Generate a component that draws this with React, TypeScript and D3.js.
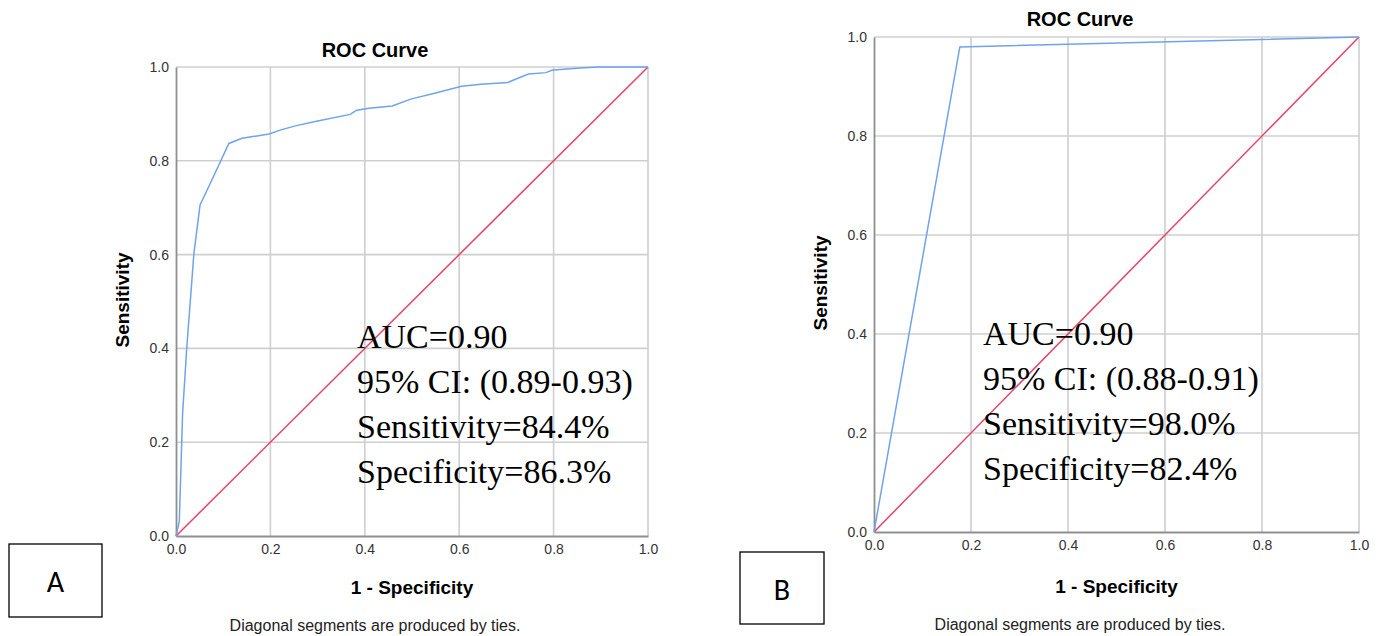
import React, { useEffect, useRef } from "react";
import * as d3 from "d3";

// panel A curve
const fprA = [0, 0.007, 0.014, 0.023, 0.03, 0.038, 0.051, 0.076, 0.112, 0.14, 0.197, 0.222, 0.255, 0.295, 0.369, 0.383, 0.409, 0.458, 0.499, 0.548, 0.605, 0.646, 0.703, 0.727, 0.747, 0.784, 0.796, 0.821, 0.858, 0.894, 1];
const tprA = [0, 0.031, 0.262, 0.404, 0.497, 0.603, 0.706, 0.759, 0.837, 0.848, 0.857, 0.866, 0.875, 0.884, 0.899, 0.908, 0.912, 0.917, 0.932, 0.944, 0.959, 0.963, 0.967, 0.977, 0.985, 0.988, 0.993, 0.995, 0.998, 1.0, 1];

// panel B curve
const fprB = [0, 0.177, 1];
const tprB = [0, 0.98, 1];

const refLine = [0, 1];
const ticks = [0, 0.2, 0.4, 0.6, 0.8, 1.0];

const statsA = ["AUC=0.90", "95% CI: (0.89-0.93)", "Sensitivity=84.4%", "Specificity=86.3%"];
const statsB = ["AUC=0.90", "95% CI: (0.88-0.91)", "Sensitivity=98.0%", "Specificity=82.4%"];

const panels = [
  { label: "A", fpr: fprA, tpr: tprA, stats: statsA, x0: 176, x1: 648, yTop: 67, yBot: 536, titleX: 375, titleY: 57, xtY: 594, ytX: 122, ytY: 300, noteX: 375, noteY: 631, statX: 357, statY: 348, box: [9, 544, 93, 73], boxTextY: 592 },
  { label: "B", fpr: fprB, tpr: tprB, stats: statsB, x0: 874, x1: 1359, yTop: 37, yBot: 532, titleX: 1080, titleY: 26, xtY: 593, ytX: 820, ytY: 283, noteX: 1080, noteY: 630, statX: 983, statY: 345, box: [740, 552, 84, 72], boxTextY: 600 },
];

const sans = "Arial, 'Liberation Sans', sans-serif";
const serif = "'Times New Roman', 'Liberation Serif', serif";

const App = () => {
  const svgRef = useRef(null);

  useEffect(() => {
    const svg = d3.select(svgRef.current);
    svg.selectAll("*").remove();

    svg.append("rect").attr("width", 1380).attr("height", 636).attr("fill", "#fff");

    panels.forEach(p => {
      const g = svg.append("g");
      const x = d3.scaleLinear().domain([0, 1]).range([p.x0, p.x1]);
      const y = d3.scaleLinear().domain([0, 1]).range([p.yBot, p.yTop]);

      // grid
      g.append("g").selectAll("line").data(ticks.slice(1)).join("line")
        .attr("x1", d => x(d)).attr("x2", d => x(d))
        .attr("y1", p.yTop).attr("y2", p.yBot)
        .attr("stroke", "#cfcfcf").attr("stroke-width", 1.6);
      g.append("g").selectAll("line").data(ticks.slice(1)).join("line")
        .attr("x1", p.x0).attr("x2", p.x1)
        .attr("y1", d => y(d)).attr("y2", d => y(d))
        .attr("stroke", "#cfcfcf").attr("stroke-width", 1.6);

      // axes
      const xAxis = g.append("g").attr("transform", `translate(0,${p.yBot})`)
        .call(d3.axisBottom(x).tickValues(ticks).tickFormat(d3.format(".1f")).tickSize(0).tickPadding(8));
      const yAxis = g.append("g").attr("transform", `translate(${p.x0},0)`)
        .call(d3.axisLeft(y).tickValues(ticks).tickFormat(d3.format(".1f")).tickSize(0).tickPadding(7));
      [xAxis, yAxis].forEach(a => {
        a.select(".domain").attr("stroke", "#8f8f8f").attr("stroke-width", 1.8);
        a.selectAll("text").attr("font-family", sans).attr("font-size", 14).attr("fill", "#333");
      });

      // diagonal reference
      g.append("path")
        .datum(refLine)
        .attr("fill", "none").attr("stroke", "#e8426a").attr("stroke-width", 1.5)
        .attr("d", d3.line<number>().x(d => x(d)).y(d => y(d)));

      // roc curve
      const pts = p.fpr.map((f, i) => [f, p.tpr[i]]);
      g.append("path")
        .datum(pts)
        .attr("fill", "none").attr("stroke", "#6fa3ee").attr("stroke-width", 1.5)
        .attr("d", d3.line<number[]>().x(d => x(d[0])).y(d => y(d[1])));

      // titles
      g.append("text").attr("x", p.titleX).attr("y", p.titleY).attr("text-anchor", "middle")
        .attr("font-family", sans).attr("font-weight", "bold").attr("font-size", 20).text("ROC Curve");
      g.append("text").attr("x", (p.x0 + p.x1) / 2).attr("y", p.xtY).attr("text-anchor", "middle")
        .attr("font-family", sans).attr("font-weight", "bold").attr("font-size", 19).text("1 - Specificity");
      g.append("text").attr("transform", `translate(${p.ytX + 7},${p.ytY}) rotate(-90)`).attr("text-anchor", "middle")
        .attr("font-family", sans).attr("font-weight", "bold").attr("font-size", 19).text("Sensitivity");
      g.append("text").attr("x", p.noteX).attr("y", p.noteY).attr("text-anchor", "middle")
        .attr("font-family", sans).attr("font-size", 16).attr("fill", "#222").text("Diagonal segments are produced by ties.");

      // stats
      g.append("g").selectAll("text").data(p.stats).join("text")
        .attr("x", p.statX).attr("y", (d, i) => p.statY + i * 45)
        .attr("font-family", serif).attr("font-size", 34).attr("fill", "#000")
        .text(d => d);

      // panel label box
      g.append("rect").attr("x", p.box[0]).attr("y", p.box[1]).attr("width", p.box[2]).attr("height", p.box[3])
        .attr("fill", "none").attr("stroke", "#000").attr("stroke-width", 1.3);
      g.append("text").attr("x", p.box[0] + p.box[2] / 2).attr("y", p.boxTextY).attr("text-anchor", "middle")
        .attr("font-family", "Carlito, Calibri, 'Liberation Sans', sans-serif").attr("font-size", 30).text(p.label);
    });
  }, []);

  return <svg ref={svgRef} width="1380" height="636" style={{ position: "absolute", left: 0, top: 0 }}></svg>;
};

export default App;
